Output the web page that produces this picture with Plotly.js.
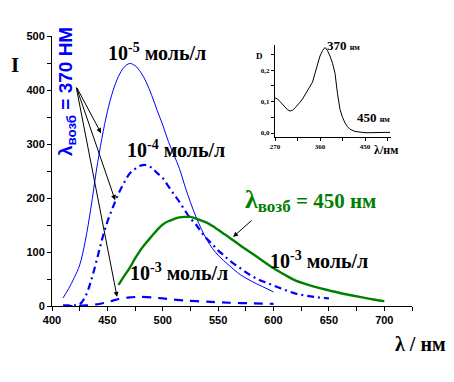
<!DOCTYPE html>
<html><head><meta charset="utf-8">
<script src="https://cdn.plot.ly/plotly-3.0.1.min.js"></script>
<style>body{margin:0;background:#fff}#g{width:454px;height:382px}</style>
</head><body><div id="g"></div>
<script>
// 10^-5 mol/L, excitation 370 nm (thin solid blue)
const lam5 = [410,415,420,425,430,435,440,445,450,455,460,465,470,475,480,485,490,495,500,505,510,515,520,525,530,535,540,545,550,555,560,570,580,590,600];
const int5 = [15,32,52,76,120,180,250,310,360,398,425,442,449,445,433,415,390,362,335,305,280,255,222,192,165,142,122,106,94,84,75,58,46,36,26];
// 10^-4 mol/L (dash-dot blue)
const lam4 = [410,415,420,425,430,435,440,445,450,455,460,465,470,475,480,485,490,495,500,505,510,515,520,525,530,535,540,545,550,555,560,570,580,590,600,610,620,630,640,650];
const int4 = [1,1,1,3,17,45,82,122,156,183,208,228,245,254,260,261,256,246,237,222,207,193,177,162,151,136,124,114,103,94,85,70,56,46,38,30,23,19,16,14];
// 10^-3 mol/L (dashed blue)
const lam3 = [410,420,430,440,450,455,460,470,480,490,500,510,520,540,560,580,600];
const int3 = [0,0,1,3,7,10,13,16,17,16,14,12,10,8,6,5,4];
// 10^-3 mol/L, excitation 450 nm (green)
const lamG = [460,465,470,475,480,485,490,495,500,505,510,515,520,525,530,535,540,545,550,555,560,570,580,590,600,610,620,630,640,650,660,670,680,690,700];
const intG = [39,55,70,88,104,117,129,141,151,157,161,164,165,165,162,158,154,148,141,134,127,112,98,84,70,58,47,40,34,29,24,20,16,12,9];
// inset absorption spectrum
const lamA = [270,275,280,285,290,295,300,305,310,315,320,325,330,335,340,345,350,355,360,365,370,375,380,385,390,395,400,405,410,415,420,430,440,450,460,470,480,490,500];
const absA = [0.112,0.108,0.100,0.092,0.082,0.074,0.070,0.072,0.080,0.088,0.098,0.108,0.122,0.137,0.150,0.162,0.190,0.220,0.245,0.262,0.272,0.262,0.245,0.222,0.19,0.125,0.075,0.050,0.032,0.020,0.012,0.005,0.002,0.001,0.001,0.002,0.001,0.002,0.002];
const xTicks = [400,450,500,550,600,650,700];
const yTicks = [0,100,200,300,400,500];
const insetXTicks = [270,360,450];
const insetYTicks = [0,0.1,0.2];
const insetYText = ['0,0','0,1','0,2'];

const L=52, T=36, W=360, H=270;
const px = x => (x-L)/W, py = y => (306-y)/H;
const serif = 'Liberation Serif';
const sans = 'Liberation Sans';
const BLUE = '#0000ff', GREEN = '#008000';

const traces = [
  {x:lam5, y:int5, type:'scatter', mode:'lines', line:{color:BLUE, width:1, shape:'spline', smoothing:1}},
  {x:lam4, y:int4, type:'scatter', mode:'lines', line:{color:BLUE, width:2.2, dash:'7px,4px,2px,4px', shape:'spline', smoothing:1}},
  {x:lam3, y:int3, type:'scatter', mode:'lines', line:{color:BLUE, width:2.2, dash:'9px,7px', shape:'spline', smoothing:0.6}},
  {x:lamG, y:intG, type:'scatter', mode:'lines', line:{color:GREEN, width:2.4, shape:'spline', smoothing:1}},
  {x:lamA, y:absA, type:'scatter', mode:'lines', line:{color:'#000', width:1}, xaxis:'x2', yaxis:'y2'}
];

function arrow(x,y,ax,ay){
  return {x:x, y:y, ax:ax, ay:ay, xref:'x', yref:'y', axref:'x', ayref:'y', text:'', showarrow:true,
    arrowhead:2, arrowsize:1, arrowwidth:1, arrowcolor:'#000'};
}
function txt(text, x, y, size, color, family, xa, ya, extra){
  return Object.assign({text:text, x:px(x), y:py(y), xref:'paper', yref:'paper', showarrow:false,
    xanchor:xa||'left', yanchor:ya||'middle', font:{family:family||serif, size:size, color:color||'#000', weight:'bold'}}, extra||{});
}

const annotations = [
  arrow(444.3,320,421.7,407),
  arrow(457,196,421.7,407),
  arrow(458.7,17,421.7,407),
  arrow(563.5,128,581.6,161),
  txt('I', 15, 65, 21, '#000', serif, 'center'),
  txt('λ / нм', 421, 344, 20, '#000', serif, 'center'),
  txt('10<sup>-5</sup> моль/л', 106, 52, 20),
  txt('10<sup>-4</sup> моль/л', 125, 149, 20),
  txt('10<sup>-3</sup> моль/л', 128, 272, 20),
  txt('10<sup>-3</sup> моль/л', 268, 260, 20),
  txt('<span style="font-size:26px">λ</span><sub><span style="font-size:17px">возб</span></sub> = 450 нм', 243, 200, 21, GREEN),
  txt('λ<sub>возб</sub> = 370 НМ', 67, 92, 19, BLUE, sans, 'center', 'middle', {textangle:-90}),
  txt('D', 259, 56, 9, '#000', serif, 'center'),
  txt('370 <span style="font-size:8px">нм</span>', 325, 45, 13),
  txt('450 <span style="font-size:8px">нм</span>', 355, 117, 13),
  txt('λ/нм', 386, 150, 12, '#000', serif, 'center')
];

const axBase = {showline:true, linecolor:'#000', linewidth:1, showgrid:false, zeroline:false, ticks:'outside', tickcolor:'#000', tickwidth:1, fixedrange:true};
const layout = {
  width:454, height:382, margin:{l:L, r:454-L-W, t:T, b:382-T-H}, showlegend:false,
  paper_bgcolor:'#fff', plot_bgcolor:'rgba(0,0,0,0)',
  xaxis: Object.assign({}, axBase, {range:[400,725], tickvals:xTicks, ticklen:4, tickfont:{family:sans, size:11, color:'#000', weight:'bold'},
    minor:{dtick:25, tick0:400, ticks:'outside', ticklen:4, tickcolor:'#000', showgrid:false}}),
  yaxis: Object.assign({}, axBase, {range:[0,500], tickvals:yTicks, ticklen:4, tickfont:{family:sans, size:11, color:'#000', weight:'bold'},
    minor:{dtick:50, tick0:0, ticks:'outside', ticklen:4, tickcolor:'#000', showgrid:false}}),
  xaxis2: Object.assign({}, axBase, {domain:[px(275), px(391)], anchor:'y2', range:[270,502], tickvals:insetXTicks, ticklen:3,
    tickfont:{family:serif, size:7, color:'#000', weight:'bold'}, minor:{dtick:45, tick0:270, ticks:'outside', ticklen:3, tickcolor:'#000', showgrid:false}}),
  yaxis2: Object.assign({}, axBase, {domain:[py(137), py(45)], anchor:'x2', range:[-0.0127,0.28], tickvals:insetYTicks, ticktext:insetYText, ticklen:3,
    tickfont:{family:serif, size:7, color:'#000', weight:'bold'}, minor:{dtick:0.05, tick0:0, ticks:'outside', ticklen:3, tickcolor:'#000', showgrid:false}}),
  annotations: annotations
};
Plotly.newPlot('g', traces, layout, {staticPlot:true, displayModeBar:false});
</script></body></html>
